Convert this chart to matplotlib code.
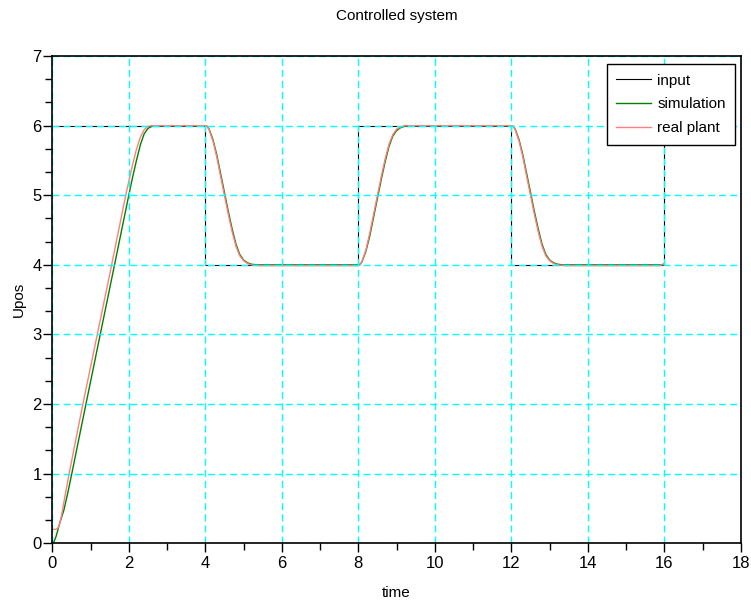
import matplotlib.pyplot as plt
from matplotlib.ticker import MultipleLocator

plt.rcParams['font.family'] = ['Liberation Sans', 'DejaVu Sans']

# input signal (step reference)
t_input = [0, 4, 4, 8, 8, 12, 12, 16, 16]
y_input = [6, 6, 4, 4, 6, 6, 4, 4, 6]

# simulation
t_sim = [0.0, 0.05, 0.1, 0.15, 0.2, 0.3, 0.4, 0.51, 0.88, 1.5, 2.0, 2.1, 2.2, 2.3, 2.4, 2.5, 2.6, 2.75, 4.0,
         4.05, 4.1, 4.2, 4.3, 4.4, 4.5, 4.6, 4.7, 4.8, 4.9, 5.0, 5.1, 5.2, 5.35, 8.0,
         8.05, 8.1, 8.2, 8.3, 8.4, 8.5, 8.6, 8.7, 8.8, 8.9, 9.0, 9.1, 9.2, 9.35, 12.0,
         12.05, 12.1, 12.2, 12.3, 12.4, 12.5, 12.6, 12.7, 12.8, 12.9, 13.0, 13.1, 13.2, 13.35, 16.0]
y_sim = [0.0, 0.03, 0.1, 0.2, 0.3, 0.47, 0.71, 1.0, 2.0, 3.66, 5.0, 5.26, 5.5, 5.72, 5.88, 5.96, 5.99, 6.0, 6.0,
         5.99, 5.95, 5.8, 5.58, 5.31, 5.04, 4.77, 4.52, 4.3, 4.15, 4.07, 4.03, 4.01, 4.0, 4.0,
         4.01, 4.05, 4.2, 4.42, 4.69, 4.96, 5.23, 5.48, 5.7, 5.85, 5.93, 5.97, 5.99, 6.0, 6.0,
         5.99, 5.95, 5.8, 5.58, 5.31, 5.04, 4.77, 4.52, 4.3, 4.15, 4.07, 4.03, 4.01, 4.0, 4.0]

# real plant measurement
t_real = [0.0, 0.1, 0.15, 0.2, 0.25, 0.3, 0.44, 0.8, 1.5, 1.92, 2.0, 2.1, 2.2, 2.3, 2.4, 2.5, 2.6, 4.0,
          4.05, 4.1, 4.2, 4.3, 4.4, 4.5, 4.6, 4.7, 4.8, 4.9, 5.0, 5.1, 5.2, 5.4, 8.0,
          8.05, 8.1, 8.2, 8.3, 8.4, 8.5, 8.6, 8.7, 8.8, 8.9, 9.0, 9.1, 9.2, 12.0,
          12.05, 12.1, 12.2, 12.3, 12.4, 12.5, 12.6, 12.7, 12.8, 12.9, 13.0, 13.1, 13.2, 13.4, 15.9, 15.95, 16.0]
y_real = [0.2, 0.2, 0.22, 0.29, 0.42, 0.58, 1.0, 2.0, 3.86, 5.0, 5.2, 5.44, 5.66, 5.83, 5.94, 5.99, 6.0, 6.0,
          5.99, 5.94, 5.78, 5.55, 5.27, 5.0, 4.73, 4.48, 4.27, 4.13, 4.06, 4.02, 4.0, 3.99, 3.99,
          4.0, 4.06, 4.22, 4.46, 4.73, 5.0, 5.27, 5.52, 5.73, 5.87, 5.95, 5.98, 6.0, 6.0,
          5.99, 5.94, 5.78, 5.55, 5.27, 5.0, 4.73, 4.48, 4.27, 4.13, 4.06, 4.02, 4.0, 3.99, 3.99, 4.01, 4.02]

fig = plt.figure(figsize=(7.51, 6.03), dpi=100)
ax = fig.add_axes([0.0696, 0.099, 0.917, 0.808])

ax.plot(t_input, y_input, color='black', lw=0.8, label='input')
ax.plot(t_sim, y_sim, color='#008000', lw=1.0, label='simulation')
ax.plot(t_real, y_real, color='#ff7f7f', lw=1.0, label='real plant')

ax.set_xlim(0, 18)
ax.set_ylim(0, 7)
ax.xaxis.set_major_locator(MultipleLocator(2))
ax.xaxis.set_minor_locator(MultipleLocator(1))
ax.yaxis.set_major_locator(MultipleLocator(1))
ax.yaxis.set_minor_locator(MultipleLocator(1 / 3))
ax.tick_params(which='major', direction='out', length=6.5, width=1, labelsize=12)
ax.tick_params(which='minor', direction='out', length=5, width=1)
ax.tick_params(axis='x', which='major', pad=2.5)
ax.tick_params(axis='y', which='major', pad=1)

# grid on top of curves, like scilab
ax.set_axisbelow(False)
ax.grid(True, which='major', color='cyan', linestyle=(0, (5, 3)), lw=1)

for s in ax.spines.values():
    s.set_linewidth(1.2)
    s.set_zorder(3)

ax.set_title('Controlled system', fontsize=11, pad=26)
ax.set_xlabel('time', fontsize=11, labelpad=11)
ax.set_ylabel('Upos', fontsize=11, labelpad=5)

leg = ax.legend(loc='upper right', bbox_to_anchor=(0.991, 0.983), borderaxespad=0,
                fancybox=False, edgecolor='black', framealpha=1, fontsize=11,
                handlelength=2.3, handletextpad=0.4, labelspacing=0.65, borderpad=0.6)
leg.get_frame().set_linewidth(1.0)
leg.set_zorder(4)

plt.savefig('out.png', dpi=100)
